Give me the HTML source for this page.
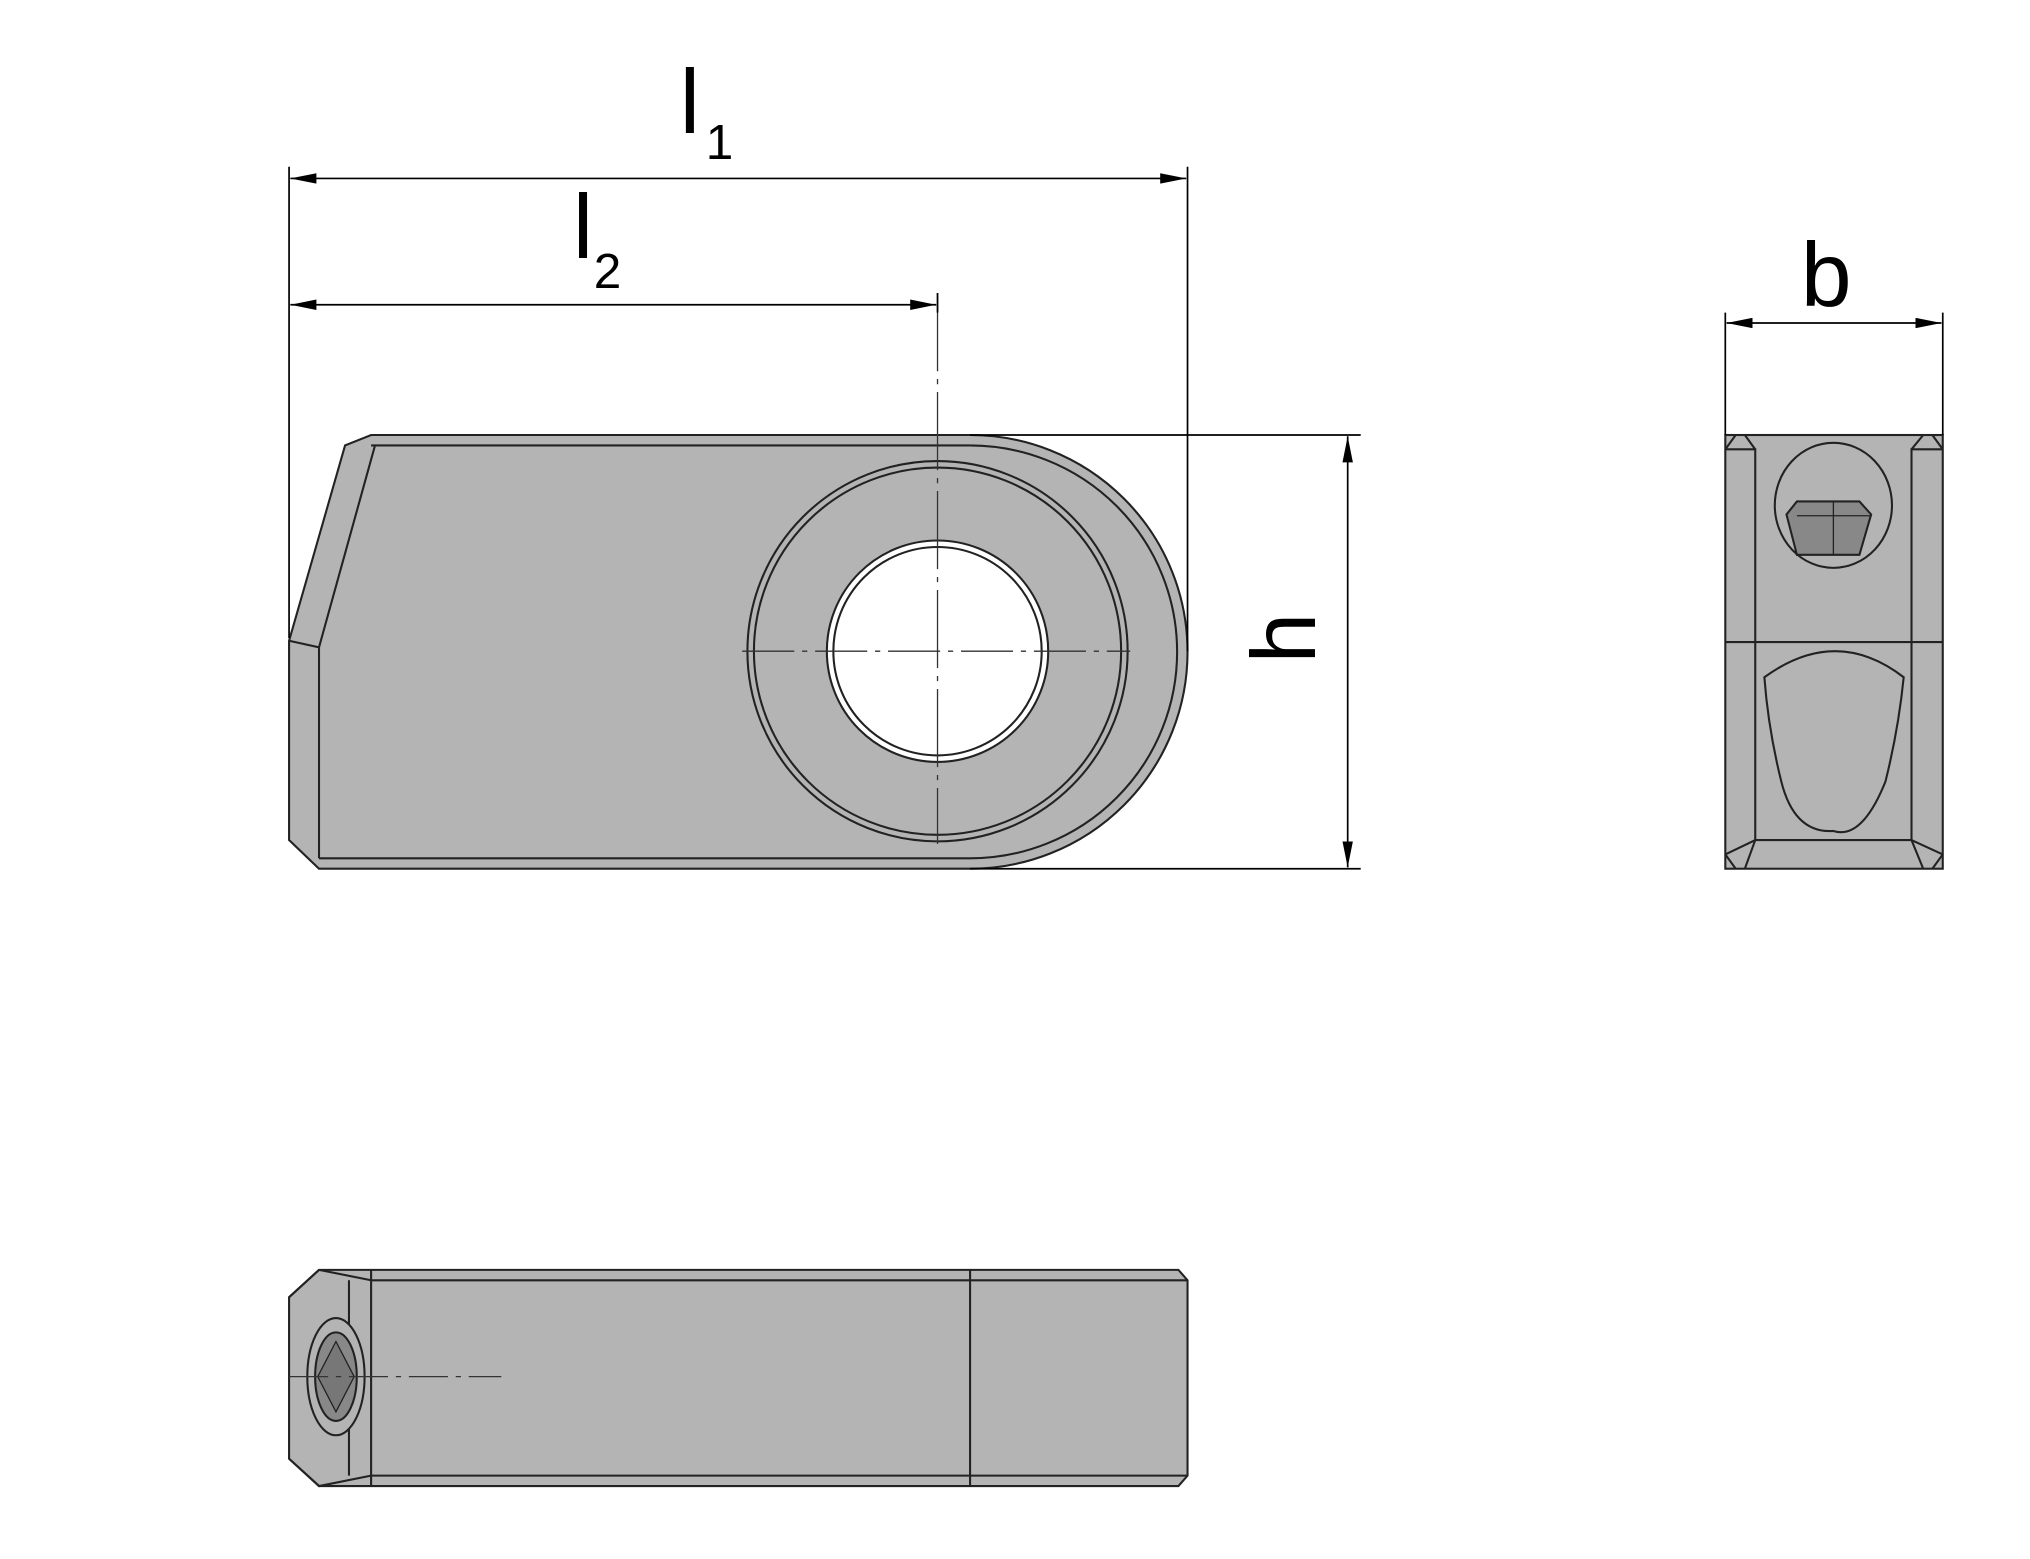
<!DOCTYPE html>
<html><head><meta charset="utf-8"><style>html,body{margin:0;padding:0;background:#fff}svg{display:block}</style></head>
<body>
<svg width="2030" height="1559" viewBox="0 0 1559 1197" preserveAspectRatio="none" xmlns="http://www.w3.org/2000/svg" font-family="Liberation Sans, sans-serif">
<defs>
<marker id="a" viewBox="0 0 20 8" refX="20" refY="4" markerWidth="20" markerHeight="8" orient="auto-start-reverse" markerUnits="userSpaceOnUse"><path d="M0,0 L20,4 L0,8 z" fill="#000"/></marker>
</defs>
<g stroke="#222" stroke-width="1.6" fill="#b4b4b4">
<path d="M245,667 L222,645 L222,492 L265,342 L285,334 L745,334 A167,166.5 0 0 1 745,667 Z"/>
<path d="M245,659 L745,659 M285,342 L745,342 M222,492 L245,497 L245,659 M245,497 L288,342" fill="none"/>
<path d="M745,342 A159,158.5 0 0 1 745,659" fill="none"/>
<circle cx="720" cy="500" r="146" fill="#b4b4b4"/>
<circle cx="720" cy="500" r="141" fill="none"/>
<circle cx="720" cy="500" r="85" fill="#fff"/>
<circle cx="720" cy="500" r="80" fill="none"/>
<rect x="1325" y="334" width="167" height="333"/>
<path d="M1333,334 L1325,345 M1484,334 L1492,345 M1325,656 L1333,667 M1492,656 L1484,667" fill="none"/>
<path d="M1325,345 L1348,345 L1348,645 L1325,656 M1492,345 L1468,345 L1468,645 L1492,656 M1325,493 L1492,493 M1348,645 L1468,645 M1340,334 L1348,345 M1477,334 L1468,345 M1340,667 L1348,645 M1477,667 L1468,645" fill="none"/>
<ellipse cx="1408" cy="388" rx="45" ry="48"/>
<path d="M1372,395 L1380,385 L1428,385 L1437,395 L1428,426 L1380,426 Z" fill="#888"/>
<path d="M1380,396 L1437,396 M1408,385 L1408,426" fill="none" stroke-width="1"/>
<path d="M1355,520 Q1410,480 1462,520 Q1458,560 1448,600 Q1430,645 1408,638 Q1378,640 1368,600 Q1358,560 1355,520 Z"/>
<path d="M245,975 L905,975 L912,983 L912,1133 L905,1141 L245,1141 L222,1120 L222,996 Z"/>
<path d="M285,975 L285,1141 M745,975 L745,1141 M285,983 L912,983 M285,1133 L912,1133 M222,996 L245,975 M245,975 L285,983 M222,1120 L245,1141 L285,1133 M268,983 L268,1133" fill="none"/>
<ellipse cx="258" cy="1057" rx="22" ry="45"/>
<ellipse cx="258" cy="1057" rx="16" ry="34" fill="#888"/>
<path d="M244,1057 L258,1030 L272,1057 L258,1084 Z" fill="#777" stroke-width="1"/>
</g>
<g stroke="#333" stroke-width="1" fill="none">
<path d="M570,500 L868,500" stroke-dasharray="40,6,4,6"/>
<path d="M720,225 L720,648" stroke-dasharray="60,6,4,6"/>
<path d="M222,1057 L385,1057" stroke-dasharray="30,6,4,6"/>
</g>
<g stroke="#000" stroke-width="1.3" fill="none">
<path d="M222,128 L222,490 M912,128 L912,500 M720,225 L720,240"/>
<path d="M223,137 L911,137" marker-start="url(#a)" marker-end="url(#a)"/>
<path d="M223,234 L719,234" marker-start="url(#a)" marker-end="url(#a)"/>
<path d="M745,334 L1045,334 M745,667 L1045,667"/>
<path d="M1035,335 L1035,666" marker-start="url(#a)" marker-end="url(#a)"/>
<path d="M1325,240 L1325,334 M1492,240 L1492,334"/>
<path d="M1326,248 L1491,248" marker-start="url(#a)" marker-end="url(#a)"/>
</g>
<g fill="#000" font-size="70">
<text x="522" y="102">l</text><text x="542" y="122" font-size="38">1</text>
<text x="440" y="198">l</text><text x="456" y="221" font-size="38">2</text>
<text x="1383" y="235">b</text>
<text transform="translate(1010,490) rotate(-90)" text-anchor="middle">h</text>
</g>
</svg>
</body></html>
